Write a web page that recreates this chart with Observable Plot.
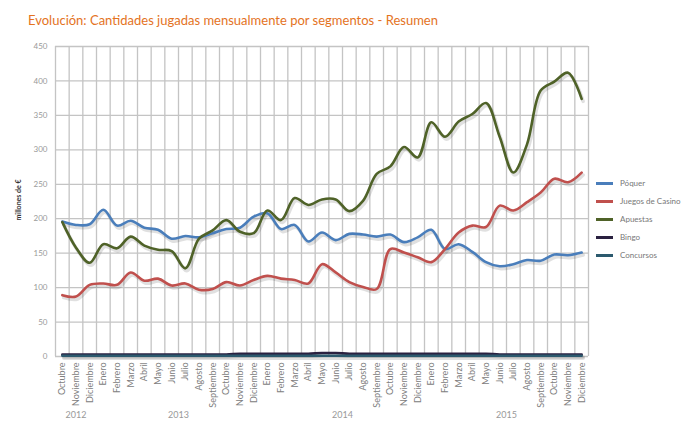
<!DOCTYPE html>
<html>
<head>
<meta charset="utf-8">
<script src="https://cdn.jsdelivr.net/npm/d3@7"></script>
<script src="https://cdn.jsdelivr.net/npm/@observablehq/plot@0.6"></script>
<style>
  html, body { margin: 0; padding: 0; background: #fff; }
  #wrap { position: relative; width: 690px; height: 426px; font-family: Lato, "Open Sans", sans-serif; }
  #title { position: absolute; left: 28px; top: 12px; font-size: 13px; color: #e4731e; white-space: nowrap; }
  #legend { position: absolute; left: 596px; top: 174px; font-size: 8px; color: #777; }
  .item { display: flex; align-items: center; height: 18px; }
  .sw { width: 17px; height: 3px; margin-right: 7px; }
</style>
</head>
<body>
<div id="wrap">
  <div id="title">Evolución: Cantidades jugadas mensualmente por segmentos - Resumen</div>
  <div id="chart"></div>
  <div id="legend"></div>
</div>
<script>
const months = ["Octubre","Noviembre","Diciembre",
  "Enero","Febrero","Marzo","Abril","Mayo","Junio","Julio","Agosto","Septiembre","Octubre","Noviembre","Diciembre",
  "Enero","Febrero","Marzo","Abril","Mayo","Junio","Julio","Agosto","Septiembre","Octubre","Noviembre","Diciembre",
  "Enero","Febrero","Marzo","Abril","Mayo","Junio","Julio","Agosto","Septiembre","Octubre","Noviembre","Diciembre"];
const years = ["2012","2013","2014","2015"];

const poquer    = [196,191,192,213,190,197,187,184,171,175,173,179,185,187,203,208,185,191,167,180,169,178,177,174,177,166,173,184,156,163,152,137,131,134,140,139,148,147,151];
const casino    = [89,87,104,106,104,122,110,113,103,106,97,98,108,103,111,117,113,111,106,134,122,108,101,98,156,151,144,137,156,180,190,188,219,212,224,238,258,253,267];
const apuestas  = [195,158,136,163,157,174,161,155,153,128,171,183,198,181,179,212,198,230,220,228,228,211,226,265,276,304,289,340,319,341,352,368,319,267,308,386,399,412,374];
const bingo     = [3,3,3,3,3,3,3,3,3,3,3,3,3,4,4,4,4,4,4,5,5,4,4,4,4,4,4,4,4,4,4,4,3,3,3,3,3,3,3];
const concursos = [1,1,1,1,1,1,1,1,1,1,1,1,1,1,1,1,1,1,1,1,1,1,1,1,1,1,1,1,1,1,1,1,1,1,1,1,1,1,1];

const seriesNames  = ["Póquer","Juegos de Casino","Apuestas","Bingo","Concursos"];
const seriesColors = ["#4a7ebb","#c0504d","#4f6228","#2a2140","#2c5a6e"];
const seriesValues = [poquer, casino, apuestas, bingo, concursos];

const rows = seriesNames.flatMap((name, s) =>
  seriesValues[s].map((v, i) => ({series: name, i, v})));

// year of each month: increments at each "Enero"
let yi = 0;
const yearOf = months.map((m, i) => { if (i > 0 && m === "Enero") yi++; return yi; });
const yearLabels = years.map((y, k) => {
  const idx = yearOf.map((v, i) => v === k ? i : null).filter(v => v !== null);
  return {year: y, i: d3.mean(idx)};
});

const chart = Plot.plot({
  width: 690,
  height: 426,
  marginLeft: 55,
  marginRight: 102,
  marginTop: 46,
  marginBottom: 70,
  style: {fontFamily: "Lato, 'Open Sans', sans-serif", background: "transparent"},
  x: {type: "linear", domain: [-0.5, months.length - 0.5]},
  y: {domain: [0, 450]},
  color: {domain: seriesNames, range: seriesColors},
  marks: [
    Plot.gridY({interval: 50, stroke: "#c4c4c4", strokeOpacity: 1, strokeWidth: 1.3}),
    Plot.ruleX(d3.range(months.length + 1), {x: d => d - 0.5, stroke: "#c4c4c4", strokeWidth: 1.3}),
    Plot.axisY({interval: 50, tickSize: 0, tickPadding: 8, fontSize: 8, fill: "#999", label: null}),
    Plot.axisX({ticks: d3.range(months.length), tickFormat: i => months[i], tickRotate: -90,
      tickSize: 0, tickPadding: 6, fontSize: 9, fill: "#808080", label: null}),
    Plot.line(rows, {x: "i", y: "v", z: "series", curve: "catmull-rom",
      stroke: "#000", strokeOpacity: 0.12, strokeWidth: 3.5, dx: 1.5, dy: 2.5}),
    Plot.line(rows, {x: "i", y: "v", z: "series", stroke: "series", curve: "catmull-rom", strokeWidth: 2.6}),
    Plot.text(yearLabels, {x: "i", text: "year", frameAnchor: "bottom", dy: 61, fontSize: 9, fill: "#999"}),
    Plot.text(["millones de €"], {frameAnchor: "left", dx: -37, dy: 19, rotate: -90, fontSize: 7, fontWeight: "bold", fill: "#333"})
  ]
});
chart.style.position = "absolute";
chart.style.left = "0";
chart.style.top = "0";
document.getElementById("chart").appendChild(chart);

const legend = document.getElementById("legend");
seriesNames.forEach((n, k) => {
  const d = document.createElement("div");
  d.className = "item";
  d.innerHTML = `<span class="sw" style="background:${seriesColors[k]}"></span><span>${n}</span>`;
  legend.appendChild(d);
});
</script>
</body>
</html>
